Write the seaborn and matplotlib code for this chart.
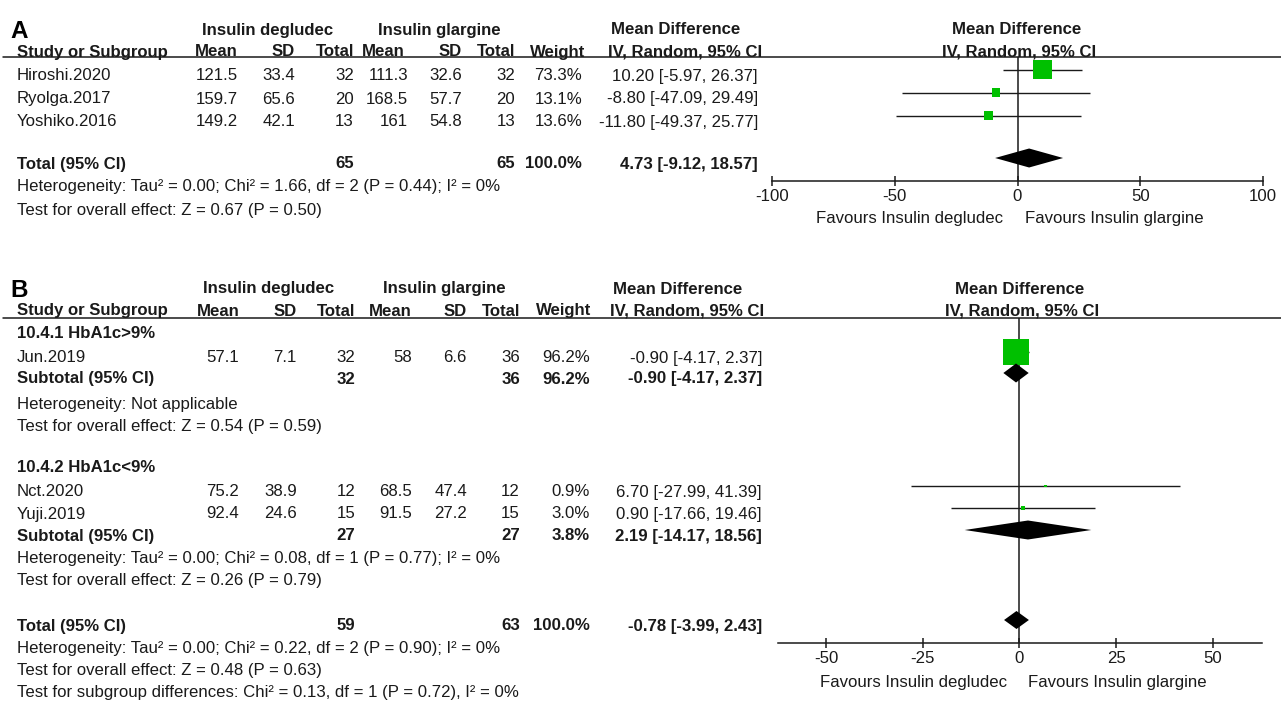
import matplotlib
matplotlib.use("Agg")
import matplotlib.pyplot as plt
import numpy as np
import pandas as pd
import seaborn as sns

# ---- panel A data ----
a_study = ["Hiroshi.2020", "Ryolga.2017", "Yoshiko.2016"]
a_deg_mean = [121.5, 159.7, 149.2]
a_deg_sd = [33.4, 65.6, 42.1]
a_deg_n = [32, 20, 13]
a_gla_mean = [111.3, 168.5, 161]
a_gla_sd = [32.6, 57.7, 54.8]
a_gla_n = [32, 20, 13]
a_weight = [73.3, 13.1, 13.6]
a_md = [10.20, -8.80, -11.80]
a_lo = [-5.97, -47.09, -49.37]
a_hi = [26.37, 29.49, 25.77]
a_total = [4.73, -9.12, 18.57]
a_total_n = [65, 65]
a_het = "Heterogeneity: Tau² = 0.00; Chi² = 1.66, df = 2 (P = 0.44); I² = 0%"
a_test = "Test for overall effect: Z = 0.67 (P = 0.50)"
a_ticks = [-100, -50, 0, 50, 100]

# ---- panel B data ----
b_groups = ["10.4.1 HbA1c>9%", "10.4.2 HbA1c<9%"]
b_study = ["Jun.2019", "Nct.2020", "Yuji.2019"]
b_group = [0, 1, 1]
b_deg_mean = [57.1, 75.2, 92.4]
b_deg_sd = [7.1, 38.9, 24.6]
b_deg_n = [32, 12, 15]
b_gla_mean = [58, 68.5, 91.5]
b_gla_sd = [6.6, 47.4, 27.2]
b_gla_n = [36, 12, 15]
b_weight = [96.2, 0.9, 3.0]
b_md = [-0.90, 6.70, 0.90]
b_lo = [-4.17, -27.99, -17.66]
b_hi = [2.37, 41.39, 19.46]
b_sub_md = [-0.90, 2.19]
b_sub_lo = [-4.17, -14.17]
b_sub_hi = [2.37, 18.56]
b_sub_n = [[32, 36], [27, 27]]
b_sub_weight = [96.2, 3.8]
b_sub_het = ["Heterogeneity: Not applicable",
             "Heterogeneity: Tau² = 0.00; Chi² = 0.08, df = 1 (P = 0.77); I² = 0%"]
b_sub_test = ["Test for overall effect: Z = 0.54 (P = 0.59)",
              "Test for overall effect: Z = 0.26 (P = 0.79)"]
b_total = [-0.78, -3.99, 2.43]
b_total_n = [59, 63]
b_het = "Heterogeneity: Tau² = 0.00; Chi² = 0.22, df = 2 (P = 0.90); I² = 0%"
b_test = "Test for overall effect: Z = 0.48 (P = 0.63)"
b_test_sub = "Test for subgroup differences: Chi² = 0.13, df = 1 (P = 0.72), I² = 0%"
b_ticks = [-50, -25, 0, 25, 50]

sns.set_theme(style="white")
plt.rcParams["font.family"] = ["Liberation Sans", "DejaVu Sans"]

W, H = 1281, 704
FS = 12.05
INK = "#1a1a1a"
GREEN = "#00c000"

fig = plt.figure(figsize=(W / 100, H / 100), dpi=100)
tab = fig.add_axes([0, 0, 1, 1])
tab.set_xlim(0, W)
tab.set_ylim(H, 0)
tab.axis("off")


def txt(x, y, s, ha="right", bold=False, size=FS):
    # y is the visual middle of the line, baseline a bit lower
    tab.text(x, y + 5.5, s, ha=ha, va="baseline", fontsize=size,
             fontweight="bold" if bold else "normal", color=INK)


def ci_str(md, lo, hi):
    return f"{md:.2f} [{lo:.2f}, {hi:.2f}]"


def header(y1, y2, line_y, cols, hcols, fx, label):
    tab.text(10, y1 + 9, label, fontsize=17.5, fontweight="bold", color="black")
    txt((cols[0] + cols[2]) / 2 - 28, y1, "Insulin degludec", ha="center", bold=True)
    txt((cols[3] + cols[5]) / 2 - 22, y1, "Insulin glargine", ha="center", bold=True)
    txt(hcols[7] - 86, y1, "Mean Difference", ha="center", bold=True)
    txt(17, y2, "Study or Subgroup", ha="left", bold=True)
    for s, x in zip(["Mean", "SD", "Total", "Mean", "SD", "Total", "Weight",
                     "IV, Random, 95% CI"], hcols):
        txt(x, y2, s, bold=True)
    txt(fx, y1, "Mean Difference", ha="center", bold=True)
    txt(fx + 2, y2, "IV, Random, 95% CI", ha="center", bold=True)
    tab.plot([3, W], [line_y, line_y], color=INK, lw=1.1)


def study_row(y, cols, name, dm, dsd, dn, gm, gsd, gn, w, md, lo, hi):
    txt(17, y, name, ha="left")
    cells = [f"{dm:g}", f"{dsd:g}", f"{dn}", f"{gm:g}", f"{gsd:g}", f"{gn}",
             f"{w:.1f}%", ci_str(md, lo, hi)]
    for s, x in zip(cells, cols):
        txt(x, y, s)


def total_row(y, cols, name, n, w, md, lo, hi):
    txt(17, y, name, ha="left", bold=True)
    txt(cols[2], y, f"{n[0]}", bold=True)
    txt(cols[5], y, f"{n[1]}", bold=True)
    txt(cols[6], y, f"{w:.1f}%", bold=True)
    txt(cols[7], y, ci_str(md, lo, hi), bold=True)


def forest_axes(x0, x1, ytop, ybot, xlim, ticks):
    ax = fig.add_axes([x0 / W, (H - ybot) / H, (x1 - x0) / W, (ybot - ytop) / H])
    ax.patch.set_visible(False)
    ax.set_xlim(*xlim)
    ax.set_ylim(ybot, ytop)
    for side in ["left", "right", "top"]:
        ax.spines[side].set_visible(False)
    ax.spines["bottom"].set_color(INK)
    ax.spines["bottom"].set_linewidth(1.1)
    ax.set_yticks([])
    ax.set_xticks(ticks)
    ax.set_xticklabels([f"{t}" for t in ticks])
    ax.tick_params(axis="x", direction="inout", length=7.5, width=1.1, color=INK,
                   labelsize=FS, labelcolor=INK, pad=2.2, bottom=True)
    ax.axvline(0, color=INK, lw=1.1, zorder=1)
    ax.set_xlabel("")
    ax.set_ylabel("")
    return ax


def squares(ax, df, smax):
    for _, r in df.iterrows():
        ax.hlines(r["y"], r["lo"], r["hi"], color=INK, lw=1.0, zorder=2)
    sns.scatterplot(data=df, x="md", y="y", size="weight", sizes=(0, smax),
                    size_norm=(0, 100), marker="s", color=GREEN, linewidth=0,
                    legend=False, ax=ax, zorder=3)
    ax.set_xlabel("")
    ax.set_ylabel("")


def diamond(ax, y, md, lo, hi, h=9.5):
    ax.fill([lo, md, hi, md], [y, y - h, y, y + h], color="black", lw=0, zorder=4)


# ================= panel A =================
cols_a = [238, 295, 354, 408, 462, 515, 582, 758]
hcols_a = [238, 295, 354, 405, 462, 515, 585, 762]
rows_a = [75, 98, 121]
header(29, 51, 57, cols_a, hcols_a, 1017, "A")
for i, y in enumerate(rows_a):
    study_row(y, cols_a, a_study[i], a_deg_mean[i], a_deg_sd[i], a_deg_n[i],
              a_gla_mean[i], a_gla_sd[i], a_gla_n[i], a_weight[i],
              a_md[i], a_lo[i], a_hi[i])
total_row(163, cols_a, "Total (95% CI)", a_total_n, 100.0, *a_total)
txt(17, 186, a_het, ha="left")
txt(17, 210, a_test, ha="left")

ax_a = forest_axes(772, 1263, 57, 181, (-100, 100), a_ticks)
df_a = pd.DataFrame({"md": a_md, "lo": a_lo, "hi": a_hi, "weight": a_weight,
                     "y": [r - 5.5 for r in rows_a]})
squares(ax_a, df_a, 255)
diamond(ax_a, 158, *a_total)
txt(1003, 218, "Favours Insulin degludec")
txt(1025, 218, "Favours Insulin glargine", ha="left")

# ================= panel B =================
cols_b = [239, 297, 355, 412, 467, 520, 590, 762]
hcols_b = [240, 297, 355, 412, 467, 520, 591, 764]
header(288, 310, 318, cols_b, hcols_b, 1020, "B")

group_rows = [dict(title=333, studies=[357], sub=378, het=403, test=425),
              dict(title=467, studies=[491, 513], sub=535, het=558, test=580)]

ax_b = forest_axes(778, 1262, 318, 643, (-62.4, 62.66), b_ticks)
study_y = []
for g, lay in enumerate(group_rows):
    txt(17, lay["title"], b_groups[g], ha="left", bold=True)
    idx = [i for i in range(len(b_study)) if b_group[i] == g]
    for i, y in zip(idx, lay["studies"]):
        study_row(y, cols_b, b_study[i], b_deg_mean[i], b_deg_sd[i], b_deg_n[i],
                  b_gla_mean[i], b_gla_sd[i], b_gla_n[i], b_weight[i],
                  b_md[i], b_lo[i], b_hi[i])
        study_y.append(y - 5)
    total_row(lay["sub"], cols_b, "Subtotal (95% CI)", b_sub_n[g], b_sub_weight[g],
              b_sub_md[g], b_sub_lo[g], b_sub_hi[g])
    diamond(ax_b, lay["sub"] - 5, b_sub_md[g], b_sub_lo[g], b_sub_hi[g], h=9.5)
    txt(17, lay["het"], b_sub_het[g], ha="left")
    txt(17, lay["test"], b_sub_test[g], ha="left")

df_b = pd.DataFrame({"md": b_md, "lo": b_lo, "hi": b_hi, "weight": b_weight,
                     "y": study_y})
squares(ax_b, df_b, 356)
total_row(625, cols_b, "Total (95% CI)", b_total_n, 100.0, *b_total)
diamond(ax_b, 620, *b_total, h=9)
txt(17, 647, b_het, ha="left")
txt(17, 670, b_test, ha="left")
txt(17, 692, b_test_sub, ha="left")
txt(1007, 682, "Favours Insulin degludec")
txt(1028, 682, "Favours Insulin glargine", ha="left")

fig.savefig("out.png", dpi=100)
